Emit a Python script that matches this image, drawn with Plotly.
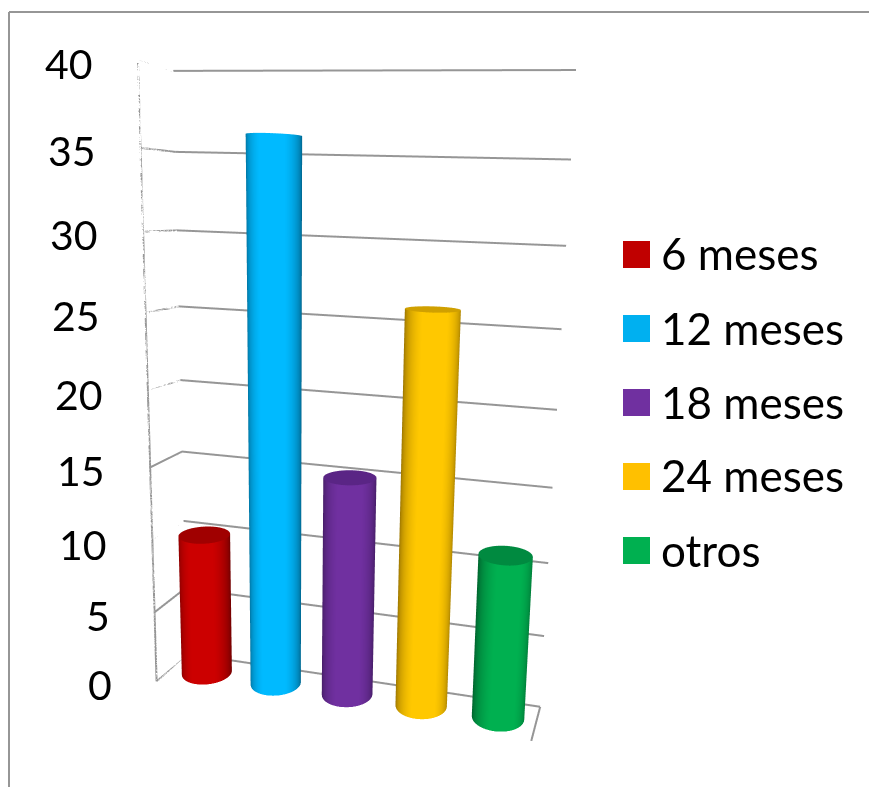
import numpy as np
import plotly.graph_objects as go

categories = ["6 meses", "12 meses", "18 meses", "24 meses", "otros"]
values = [10, 36, 15, 26, 11]
z_ticks = [0, 5, 10, 15, 20, 25, 30, 35, 40]

colors = ["#CC0000", "#00BAFF", "#7030A0", "#FFC800", "#00B050"]
legend_colors = ["#C00000", "#00B0F0", "#7030A0", "#FFC000", "#00B050"]
dark = ["#6e0000", "#005f85", "#3e1a5c", "#946f00", "#00632d"]
cap = ["#a00000", "#0088b8", "#5a2585", "#d0a000", "#008a40"]

GRID = "#969696"
FONT = "Lato, Carlito, sans-serif"

# Scene proportions and viewpoint
ax, ay, az = 1.624, 0.2683, 2.5492
eye = dict(x=1.1851, y=-3.5272, z=0.7827)
look_at = dict(x=0.2657, y=0.3453, z=-0.0162)
up = dict(x=-0.0376, y=0.0282, z=1)

x0, x1 = -0.52, 4.48
y_half = ay / 2 / (ax / 5)  # keeps one y unit as long as one x unit, so the bars stay round
radius = 0.33
theta = np.linspace(0, 2 * np.pi, 121)
phi = np.arctan2(eye["y"], eye["x"])  # direction of the viewer, brightest part of each bar
flat = dict(ambient=1, diffuse=0, specular=0, roughness=1, fresnel=0)

fig = go.Figure()

# Gridlines on the left and back walls, the left wall's front edge and the floor's right edge
xs, ys, zs = [], [], []
for t in z_ticks:
    xs += [x0, x0, x1, None]
    ys += [-y_half, y_half, y_half, None]
    zs += [t, t, t, None]
xs += [x0, x0, None, x1, x1]
ys += [-y_half, -y_half, None, y_half, -y_half]
zs += [0, 40, None, 0, 0]
fig.add_scatter3d(x=xs, y=ys, z=zs, mode="lines", line=dict(color=GRID, width=4),
                  hoverinfo="skip", showlegend=False)

# One cylinder per category: shaded side plus a darker top cap
for i, v in enumerate(values):
    X = np.array([i + radius * np.cos(theta)] * 2)
    Y = np.array([radius * np.sin(theta)] * 2)
    Z = np.array([np.zeros_like(theta), np.full_like(theta, v)])
    shade = np.array([np.cos(theta - phi)] * 2)
    scale = [[0, dark[i]], [0.5, dark[i]], [0.95, colors[i]], [1, colors[i]]]
    fig.add_surface(x=X, y=Y, z=Z, surfacecolor=shade, colorscale=scale, cmin=-1, cmax=1,
                    showscale=False, lighting=flat, hoverinfo="skip", name=categories[i])
    TH, RR = np.meshgrid(theta, np.array([0, radius]))
    fig.add_surface(x=i + RR * np.cos(TH), y=RR * np.sin(TH), z=np.full_like(TH, v),
                    surfacecolor=np.zeros_like(TH), colorscale=[[0, cap[i]], [1, cap[i]]],
                    showscale=False, lighting=flat, hoverinfo="skip")

# Value axis labels sit beside the wall's front edge
scene_notes = [dict(x=x0, y=-y_half, z=t, text=str(t), showarrow=False, xanchor="right",
                    xshift=-43, yshift=-3, font=dict(family=FONT, size=41, color="black"))
               for t in z_ticks]

# Chart frame (top and left sides)
shapes = [
    dict(type="line", xref="paper", yref="paper", x0=9 / 869, x1=1, y0=1 - 12 / 787, y1=1 - 12 / 787,
         line=dict(color=GRID, width=2)),
    dict(type="line", xref="paper", yref="paper", x0=9 / 869, x1=9 / 869, y0=0, y1=1 - 12 / 787,
         line=dict(color=GRID, width=2)),
]

# Legend: colour swatch and name for each category
notes = []
for i, name in enumerate(categories):
    yc = 254.5 + 74 * i
    shapes.append(dict(type="rect", xref="paper", yref="paper", x0=623 / 869, x1=650 / 869,
                       y0=1 - (yc - 13.5) / 787, y1=1 - (yc + 13.5) / 787,
                       fillcolor=legend_colors[i], line=dict(width=0)))
    notes.append(dict(x=659 / 869, y=1 - (yc - 1) / 787, xref="paper", yref="paper", xanchor="left",
                      yanchor="middle", text=name, showarrow=False,
                      font=dict(family=FONT, size=44, color="black")))

hidden = dict(visible=False, showbackground=False, showgrid=False, zeroline=False)
fig.update_layout(
    width=869, height=787, paper_bgcolor="white", margin=dict(l=0, r=0, t=0, b=0), showlegend=False,
    shapes=shapes, annotations=notes,
    scene=dict(
        domain=dict(x=[0, 1], y=[0, 1]),
        aspectmode="manual", aspectratio=dict(x=ax, y=ay, z=az),
        camera=dict(eye=eye, center=look_at, up=up, projection=dict(type="perspective")),
        xaxis=dict(hidden, range=[x0, x1]),
        yaxis=dict(hidden, range=[-y_half, y_half]),
        zaxis=dict(hidden, range=[0, 40]),
        annotations=scene_notes,
    ),
)
fig.write_html("out.html")
